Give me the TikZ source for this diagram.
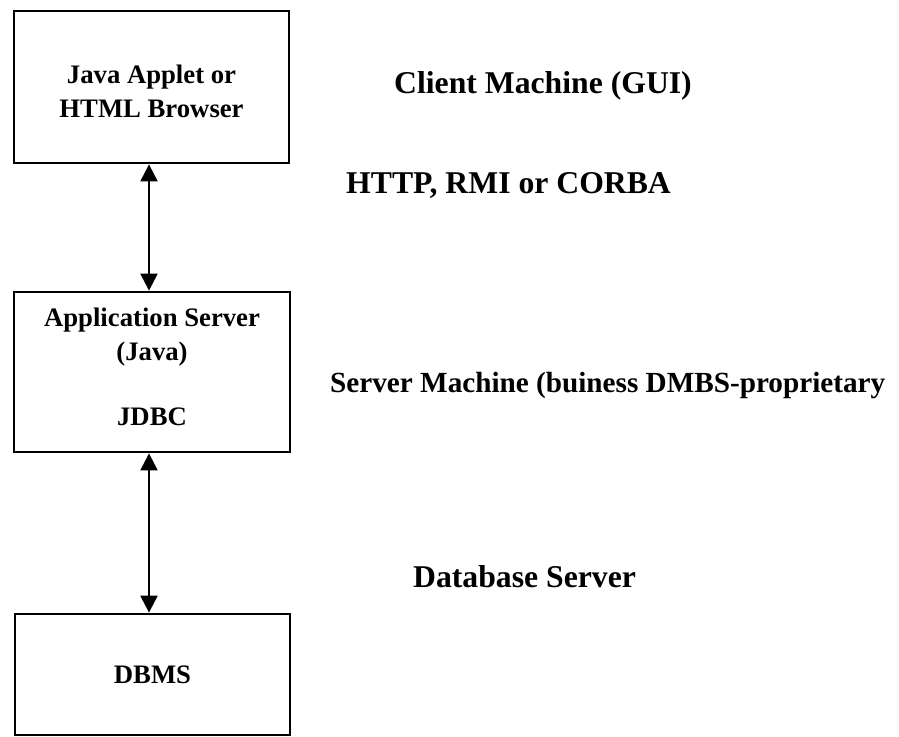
\documentclass[tikz,border=0pt]{standalone}
\usepackage{fontspec}
\setmainfont{Liberation Serif}
\usetikzlibrary{arrows.meta}
\tikzset{
  box/.style={draw=black, line width=2.8pt, rectangle, inner sep=0pt},
  boxtxt/.style={anchor=base, inner sep=0pt, font=\bfseries\fontsize{26.7}{33}\selectfont},
  sidetxt/.style={anchor=base west, inner sep=0pt, font=\bfseries\fontsize{31.7}{38}\selectfont},
  biarrow/.style={line width=2.2pt, {Triangle[width=17pt,length=17pt]}-{Triangle[width=17pt,length=17pt]}}
}
\begin{document}
\begin{tikzpicture}[x=1pt,y=-1pt]
\useasboundingbox[fill=white] (0,0) rectangle (899,736);
% boxes
\node[box, minimum width=275pt, minimum height=152pt] (b1) at (151.5,87) {};
\node[box, minimum width=276pt, minimum height=160pt] (b2) at (152,372) {};
\node[box, minimum width=275pt, minimum height=121pt] (b3) at (152.5,674.5) {};
% box texts
\node[boxtxt] (t1a) at (151.5,83) {Java Applet or};
\node[boxtxt] (t1b) at (151.5,117) {HTML Browser};
\node[boxtxt] (t2a) at (152,326) {Application Server};
\node[boxtxt] (t2b) at (152,360) {(Java)};
\node[boxtxt] (t2c) at (152,425) {JDBC};
\node[boxtxt] (t3a) at (152.5,683) {DBMS};
% arrows
\draw[biarrow] ([xshift=-2.5pt]b1.south) -- ([xshift=-3pt]b2.north);
\draw[biarrow] ([xshift=-3pt]b2.south) -- ([xshift=-3.5pt]b3.north);
% side labels
\node[sidetxt] (l1) at (394,93) {Client Machine (GUI)};
\node[sidetxt] (l2) at (346,193) {HTTP, RMI or CORBA};
\node[sidetxt, font=\bfseries\fontsize{29.2}{35}\selectfont] (l3) at (330,392) {Server Machine (buiness DMBS-proprietary};
\node[sidetxt] (l4) at (413,587) {Database Server};
\end{tikzpicture}
\end{document}
